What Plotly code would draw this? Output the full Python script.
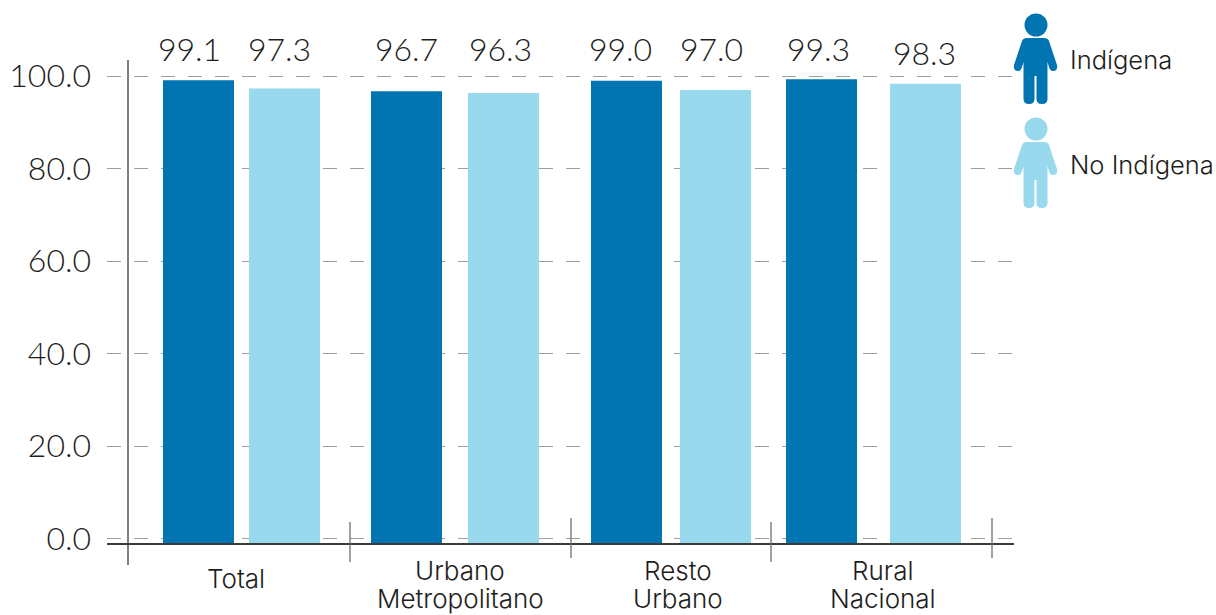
import plotly.graph_objects as go

# ---- data ----
categories = ["Total", "Urbano<br>Metropolitano", "Resto<br>Urbano", "Rural<br>Nacional"]
indigena = [99.1, 96.7, 99.0, 99.3]
no_indigena = [97.3, 96.3, 97.0, 98.3]
y_ticks = [0, 20, 40, 60, 80, 100]
y_tick_labels = ["0.0", "20.0", "40.0", "60.0", "80.0", "100.0"]

# ---- layout (x axis runs in figure pixels, because the groups are unevenly spaced) ----
W, H = 1216, 615
PL, PR, PT, PB = 107, 1014, 0, 543
Y0_PX, PX_PER_UNIT = 538.5, 4.625
x_ind = [198.5, 406.5, 626.5, 821.5]
x_no = [284.5, 503.5, 715.5, 925.5]
x_lab_ind = [189.5, 406.5, 620, 818.5]
x_lab_no = [279.5, 500, 711, 924.5]
cat_pos = [(236, [578]), (460, [570, 598]), (678, [570, 598]), (883, [570, 598])]
separators = [(350, 522, 562), (571, 518, 558), (771, 522, 562), (992, 518, 558)]
BAR_W = 71
DARK, LIGHT, TEXT, GRID = "#0075B2", "#98D9EE", "#1D1D1B", "#9D9D9D"
FONT = "Lato"
FONT2 = "Inter"

y_min = (Y0_PX - PB) / PX_PER_UNIT
y_max = (Y0_PX - PT) / PX_PER_UNIT


def yv(py):
    return (Y0_PX - py) / PX_PER_UNIT


def fx(px):
    return (px - PL) / (PR - PL)


def fy(py):
    return 1 - (py - PT) / (PB - PT)


fig = go.Figure()
for name, xs, vals, col in [("Indígena", x_ind, indigena, DARK), ("No Indígena", x_no, no_indigena, LIGHT)]:
    fig.add_trace(go.Bar(name=name, x=xs, y=[v - y_min for v in vals], base=y_min, width=BAR_W,
                         marker=dict(color=col, line=dict(width=0)),
                         customdata=vals, hovertemplate="%{customdata:.1f}<extra>" + name + "</extra>"))

annotations = []
for xs, vals in [(x_lab_ind, indigena), (x_lab_no, no_indigena)]:
    for x, v in zip(xs, vals):
        annotations.append(dict(x=x, y=yv(52 if v == 98.3 else 48), xref="x", yref="y", text=f"{v:.1f}",
                                showarrow=False, yanchor="middle", xanchor="center",
                                font=dict(family=FONT, size=32, weight=300, color=TEXT)))

for text, (cx, cys) in zip(categories, cat_pos):
    for line, cy in zip(text.split("<br>"), cys):
        annotations.append(dict(x=fx(cx), y=fy(cy), xref="paper", yref="paper", text=line, showarrow=False,
                                xanchor="center", yanchor="middle", align="center",
                                font=dict(family=FONT2, size=26, weight=300, color=TEXT)))

for text, py in [("Indígena", 60), ("No Indígena", 164)]:
    annotations.append(dict(x=fx(1070), y=fy(py), xref="paper", yref="paper", text=text, showarrow=False,
                            xanchor="left", yanchor="middle", xshift=-2,
                            font=dict(family=FONT2, size=25.5, weight=300, color=TEXT)))

shapes = [dict(type="line", xref="paper", yref="paper", x0=fx(128), x1=fx(128), y0=fy(60), y1=fy(565),
               line=dict(color="#3C3C3B", width=1.3))]
for sx, a, b in separators:
    shapes.append(dict(type="line", xref="paper", yref="paper", x0=fx(sx), x1=fx(sx), y0=fy(a), y1=fy(b),
                       line=dict(color="#6F6F6E", width=1.3)))


def person(dy, col):
    def P(x, y):
        return f"{fx(x):.5f},{fy(y + dy):.5f}"
    body = (f"M{P(1027,38)} L{P(1044,38)} Q{P(1048,38)} {P(1049,41)} L{P(1057,65)} Q{P(1058,71)} {P(1053,71)} "
            f"Q{P(1050,71)} {P(1049,67)} L{P(1047.5,62)} L{P(1047.5,99)} Q{P(1047.5,104)} {P(1042,104)} "
            f"Q{P(1036.5,104)} {P(1036.5,99)} L{P(1036.5,76)} L{P(1034.5,76)} L{P(1034.5,99)} "
            f"Q{P(1034.5,104)} {P(1029,104)} Q{P(1023.5,104)} {P(1023.5,99)} L{P(1023.5,62)} L{P(1022,67)} "
            f"Q{P(1021,71)} {P(1018,71)} Q{P(1013,71)} {P(1014,65)} L{P(1022,41)} Q{P(1023,38)} {P(1027,38)} Z")
    return [
        dict(type="path", xref="paper", yref="paper", path=body, fillcolor=col, line=dict(width=0), layer="above"),
        dict(type="circle", xref="paper", yref="paper", x0=fx(1024.5), x1=fx(1047.5),
             y0=fy(36.5 + dy), y1=fy(13.5 + dy), fillcolor=col, line=dict(width=0), layer="above"),
    ]


shapes += person(0, DARK) + person(104, LIGHT)

fig.update_layout(
    width=W, height=H, autosize=False, showlegend=False, barmode="overlay",
    plot_bgcolor="white", paper_bgcolor="white",
    margin=dict(l=PL, r=W - PR, t=PT, b=H - PB, pad=0, autoexpand=False),
    annotations=annotations, shapes=shapes,
    xaxis=dict(range=[PL, PR], showticklabels=False, ticks="", showgrid=False, automargin=False,
               zeroline=False, showline=True, linecolor="#3C3C3B", linewidth=1.6),
    yaxis=dict(range=[y_min, y_max], tickmode="array", tickvals=y_ticks, ticktext=y_tick_labels, ticks="",
               automargin=False, zeroline=False, showline=False, showgrid=True, gridcolor=GRID, gridwidth=1.3,
               griddash="14px,13px", ticklabelstandoff=15,
               tickfont=dict(family=FONT, size=32, weight=300, color=TEXT)),
)

fig.write_html("out.html", config={"displayModeBar": False},
               post_script="document.body.style.margin='0';document.body.style.overflow='hidden';")
